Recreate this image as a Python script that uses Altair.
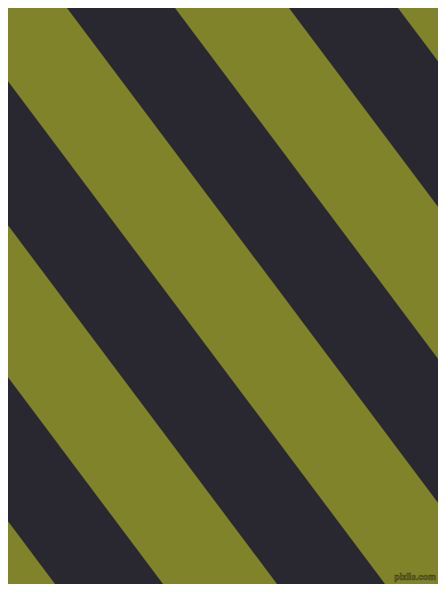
import altair as alt
import pandas as pd

# Colours
OLIVE = "#80832A"
DARK = "#292830"

# Dark stripe edges, read as x positions where each edge meets the top border (y = 0)
dark_left_edges = [-383, -161, 61, 283]
dark_right_edges = [-275, -53, 169, 392]
# horizontal run of each edge per pixel going down
edge_slope = 0.75

# Reference picture extent and the page margin of the output
pic_w, pic_h = 446, 592
margin = 8
W, H = pic_w - 2 * margin, pic_h - 2 * margin

x_dom = [margin, margin + W]
y_dom = [margin, margin + H]

rows = []
for i, (a, b) in enumerate(zip(dark_left_edges, dark_right_edges)):
    for x in x_dom:
        rows.append({"stripe": i, "x": x,
                     "y_top": (x - b) / edge_slope,
                     "y_bot": (x - a) / edge_slope})
stripes = pd.DataFrame(rows)

wm_text = ["pixlis.com"]
wm_x = [415]
wm_y = [577]
wm = pd.DataFrame({"t": wm_text, "x": wm_x, "y": wm_y})

xs = alt.Scale(domain=x_dom, nice=False, zero=False)
ys = alt.Scale(domain=y_dom, nice=False, zero=False, reverse=True)

areas = alt.Chart(stripes).mark_area(color=DARK, clip=True, opacity=1).encode(
    x=alt.X("x:Q", scale=xs, axis=None),
    y=alt.Y("y_top:Q", scale=ys, axis=None),
    y2="y_bot:Q",
    detail="stripe:N",
)

mark = alt.Chart(wm).mark_text(
    font="Liberation Sans", fontSize=8.5, fontWeight="bold",
    color="#6e7124", stroke="#3a3b1c", strokeWidth=0.5,
    align="center", baseline="middle", clip=True,
).encode(
    x=alt.X("x:Q", scale=xs, axis=None),
    y=alt.Y("y:Q", scale=ys, axis=None),
    text="t:N",
)

chart = (areas + mark).properties(
    width=W, height=H, padding=0, background=OLIVE,
).configure_view(stroke=None, strokeWidth=0)

chart.save("out.html", embed_options={"renderer": "svg", "actions": False})
